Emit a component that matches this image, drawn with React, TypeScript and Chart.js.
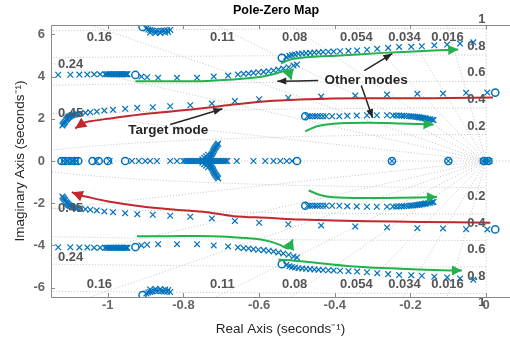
import React, { useEffect, useRef } from "react";
import { Chart, registerables } from "chart.js";

Chart.register(...registerables);

type P = [number, number];

// ---------- axes ----------
const X_TICKS = [-1, -0.8, -0.6, -0.4, -0.2, 0];
const Y_TICKS = [-6, -4, -2, 0, 2, 4, 6];
const X_RANGE: P = [-1.15, 0.063];
const Y_RANGE: P = [-6.45, 6.45];

// ---------- poles (upper half; lower half are conjugates) ----------
const TARGET_POLES: P[] = [
  [-1.120, 1.682], [-1.118, 1.73], [-1.116, 1.777], [-1.114, 1.83], [-1.112, 1.872], [-1.110, 1.943],
  [-1.108, 1.98], [-1.107, 2.014], [-1.105, 2.05], [-1.103, 2.085], [-1.101, 2.11], [-1.099, 2.133],
  [-1.096, 2.16], [-1.094, 2.180], [-1.090, 2.19], [-1.086, 2.204], [-1.080, 2.23], [-1.073, 2.251],
  [-1.059, 2.284], [-1.046, 2.313], [-1.029, 2.346], [-1.009, 2.393], [-0.986, 2.427], [-0.954, 2.474],
  [-0.922, 2.521], [-0.881, 2.550], [-0.835, 2.597], [-0.782, 2.645], [-0.725, 2.725], [-0.664, 2.844],
  [-0.600, 2.929], [-0.523, 3.000], [-0.436, 3.057], [-0.346, 3.104], [-0.262, 3.152], [-0.182, 3.185],
  [-0.114, 3.199], [-0.053, 3.232], [0.003, 3.246],
];
const OTHER_A_POLES: P[] = [
  [-1.131, 4.09], [-1.099, 4.09], [-1.075, 4.10], [-1.054, 4.10], [-1.036, 4.11], [-1.020, 4.11],
  [-1.007, 4.12], [-1.003, 4.12], [-0.999, 4.12], [-0.995, 4.12], [-0.991, 4.12], [-0.987, 4.12],
  [-0.983, 4.12], [-0.979, 4.12], [-0.975, 4.12], [-0.971, 4.12], [-0.967, 4.12], [-0.964, 4.12],
  [-0.961, 4.12], [-0.958, 4.12], [-0.955, 4.12], [-0.952, 4.12], [-0.950, 4.12], [-0.948, 4.12],
];
const OTHER_B_POLES: P[] = [
  [-0.911, 4.005], [-0.896, 3.972], [-0.867, 3.943], [-0.817, 3.943], [-0.764, 3.943], [-0.720, 4.005],
  [-0.682, 4.052], [-0.656, 4.100], [-0.641, 4.133], [-0.628, 4.147], [-0.615, 4.180], [-0.602, 4.209],
  [-0.588, 4.227], [-0.575, 4.256], [-0.562, 4.289], [-0.549, 4.336], [-0.536, 4.384], [-0.522, 4.445],
  [-0.509, 4.526], [-0.500, 4.573],
];
const OTHER_C_POLES: P[] = [
  [-0.528, 4.938], [-0.520, 4.986], [-0.513, 5.024], [-0.505, 5.047], [-0.496, 5.081], [-0.486, 5.095],
  [-0.476, 5.114], [-0.465, 5.128], [-0.454, 5.142], [-0.443, 5.156], [-0.431, 5.171], [-0.417, 5.180],
  [-0.403, 5.190], [-0.386, 5.204], [-0.364, 5.223], [-0.341, 5.246], [-0.315, 5.275], [-0.288, 5.318],
  [-0.259, 5.365], [-0.230, 5.412], [-0.198, 5.417], [-0.170, 5.441], [-0.137, 5.488], [-0.103, 5.521],
  [-0.069, 5.569], [-0.034, 5.630],
];
const OTHER_D_POLES: P[] = [
  [-0.472, 2.123], [-0.466, 2.123], [-0.459, 2.123], [-0.452, 2.123], [-0.446, 2.123], [-0.439, 2.123],
  [-0.431, 2.123], [-0.423, 2.123], [-0.407, 2.123], [-0.388, 2.123], [-0.367, 2.142], [-0.342, 2.156],
  [-0.315, 2.171], [-0.289, 2.171], [-0.262, 2.171], [-0.246, 2.156], [-0.238, 2.156], [-0.230, 2.156],
  [-0.223, 2.150], [-0.217, 2.142], [-0.210, 2.133], [-0.203, 2.123], [-0.198, 2.116], [-0.193, 2.109],
  [-0.187, 2.097], [-0.182, 2.085], [-0.178, 2.074], [-0.174, 2.062], [-0.170, 2.050], [-0.166, 2.038],
  [-0.162, 2.026], [-0.159, 2.014], [-0.153, 1.991], [-0.148, 1.976], [-0.143, 1.957], [-0.139, 1.943],
];
const TOP_POLES: P[] = [
  [-0.898, 6.280], [-0.893, 6.232], [-0.888, 6.209], [-0.882, 6.185], [-0.874, 6.171], [-0.867, 6.171],
  [-0.859, 6.175], [-0.851, 6.185], [-0.843, 6.199], [-0.835, 6.218], [-0.888, 6.090], [-0.874, 6.066],
  [-0.861, 6.076], [-0.848, 6.090], [-0.840, 6.114],
];
const FISH_POLES: P[] = [
  [-0.750, 0.08], [-0.745, 0.15], [-0.740, 0.22], [-0.735, 0.30], [-0.732, 0.07], [-0.730, 0.14],
  [-0.729, 0.20], [-0.727, 0.26], [-0.726, 0.31], [-0.724, 0.36], [-0.722, 0.42], [-0.721, 0.47],
  [-0.719, 0.53], [-0.718, 0.58], [-0.716, 0.63], [-0.714, 0.68], [-0.712, 0.73], [-0.710, 0.78],
  [-0.708, 0.83],
];
const REAL_POLES = [
  -1.118, -1.106, -1.094, -1.083, -1.030, -0.995, -0.936, -0.918, -0.901, -0.888, -0.870, -0.835,
  -0.817, -0.800, -0.795, -0.790, -0.785, -0.780, -0.775, -0.770, -0.765, -0.760, -0.756, -0.752,
  -0.748, -0.744, -0.740, -0.736, -0.732, -0.728, -0.724, -0.720, -0.716, -0.712, -0.708, -0.704,
  -0.700, -0.696, -0.692, -0.688, -0.684, -0.659, -0.615, -0.584, -0.562, -0.544, -0.527, -0.513,
  -0.249, -0.100, -0.009, -0.003, 0.003, 0.009,
];

// ---------- zeros ----------
const UPPER_ZEROS: P[] = [[0.024, 3.246], [-0.927, 4.08], [-0.540, 4.891], [-0.478, 2.123], [-0.908, 6.36]];
const REAL_ZEROS = [-1.122, -1.112, -1.100, -1.088, -1.078, -1.040, -1.024, -1.000, -0.954, -0.500, -0.249, -0.100, -0.006, 0.006];

// ---------- grid (damping ratios, natural frequencies in Hz) ----------
const DAMPING = [0.016, 0.034, 0.054, 0.08, 0.11, 0.16, 0.24, 0.45];
const FREQ_HZ = [0.2, 0.4, 0.6, 0.8, 1];

// ---------- grid labels ----------
const DAMP_TOP_LABELS = ["0.16", "0.11", "0.08", "0.054", "0.034", "0.016"];
const DAMP_TOP_RE = [-1.022, -0.697, -0.506, -0.343, -0.216, -0.102];
const DAMP_TOP_IM = 5.85;
const DAMP_SIDE_LABELS = ["0.24", "0.45"];
const DAMP_SIDE_RE = -1.098;
const DAMP_SIDE_IM = [4.57, 2.25];
const FREQ_LABELS = ["0.2", "0.4", "0.6", "0.8", "1"];
const FREQ_LABEL_UP = [1.635, 2.915, 4.194, 5.427, 6.706];
const FREQ_LABEL_DN = [-1.682, -2.962, -4.194, -5.474, -6.706];

// ---------- annotations ----------
const NOTE_TEXT = ["Other modes", "Target mode"];
const NOTE_RE = [-0.317, -0.840];
const NOTE_IM = [3.839, 1.445];

const RED_UP: P[] = [[0.018, 3.009], [-0.095, 2.986], [-0.188, 2.976], [-0.306, 2.972], [-0.404, 2.962], [-0.491, 2.915], [-0.579, 2.834], [-0.668, 2.678], [-0.738, 2.521], [-0.827, 2.360], [-0.914, 2.204], [-1.002, 2.000], [-1.046, 1.886], [-1.065, 1.80], [-1.086, 1.540]];
const RED_DN: P[] = [[0.011, -2.929], [-0.174, -2.891], [-0.315, -2.853], [-0.491, -2.773], [-0.579, -2.692], [-0.668, -2.616], [-0.738, -2.427], [-0.827, -2.299], [-0.914, -2.142], [-1.002, -1.905], [-1.059, -1.682], [-1.074, -1.62], [-1.095, -1.479]];
const GREEN_1_UP: P[] = [[-0.927, 3.782], [-0.835, 3.782], [-0.756, 3.782], [-0.668, 3.863], [-0.610, 3.957], [-0.571, 4.076], [-0.539, 4.242], [-0.523, 4.313], [-0.515, 3.863]];
const GREEN_1_DN: P[] = [[-0.923, -3.564], [-0.835, -3.564], [-0.729, -3.564], [-0.668, -3.611], [-0.610, -3.69], [-0.575, -3.80], [-0.545, -3.98], [-0.522, -4.15], [-0.511, -3.72]];
const GREEN_2_UP: P[] = [[-0.542, 4.621], [-0.518, 4.810], [-0.465, 4.929], [-0.386, 5.000], [-0.272, 5.128], [-0.140, 5.237], [-0.074, 5.284]];
const GREEN_2_DN: P[] = [[-0.549, -4.668], [-0.491, -4.749], [-0.359, -4.986], [-0.227, -5.109], [-0.095, -5.190], [-0.064, -5.190]];
const GREEN_3_UP: P[] = [[-0.478, 1.412], [-0.447, 1.649], [-0.404, 1.763], [-0.315, 1.810], [-0.227, 1.777], [-0.139, 1.730]];
const GREEN_3_DN: P[] = [[-0.469, -1.398], [-0.439, -1.611], [-0.404, -1.716], [-0.315, -1.754], [-0.227, -1.744], [-0.130, -1.706]];
const BLACK_1: P[] = [[-0.835, 1.730], [-0.697, 2.474]];
const BLACK_2: P[] = [[-0.444, 3.815], [-0.552, 3.782]];
const BLACK_3: P[] = [[-0.322, 4.289], [-0.248, 5.095]];
const BLACK_4: P[] = [[-0.330, 3.578], [-0.300, 2.038]];

// ---------- styles ----------
const BLUE = "#0072BD";
const RED = "#C1272D";
const GREEN = "#22B14C";
const DARK = "#262626";
const GRID = "#bdbdbd";
const FONT = "'Liberation Sans', Arial, Helvetica, sans-serif";

type Arrow = { pts: P[]; color: string; width: number; len: number; half: number };
const ARROWS: Arrow[] = [
  { pts: RED_UP, color: RED, width: 2, len: 11, half: 5.5 },
  { pts: RED_DN, color: RED, width: 2, len: 11, half: 5.5 },
  { pts: GREEN_1_UP, color: GREEN, width: 2, len: 10, half: 6 },
  { pts: GREEN_1_DN, color: GREEN, width: 2, len: 10, half: 6 },
  { pts: GREEN_2_UP, color: GREEN, width: 2, len: 10, half: 5 },
  { pts: GREEN_2_DN, color: GREEN, width: 2, len: 10, half: 5 },
  { pts: GREEN_3_UP, color: GREEN, width: 2, len: 10, half: 5 },
  { pts: GREEN_3_DN, color: GREEN, width: 2, len: 10, half: 5 },
  { pts: BLACK_1, color: DARK, width: 1.5, len: 9, half: 3.5 },
  { pts: BLACK_2, color: DARK, width: 1.5, len: 9, half: 3.5 },
  { pts: BLACK_3, color: DARK, width: 1.5, len: 9, half: 3.5 },
  { pts: BLACK_4, color: DARK, width: 1.5, len: 9, half: 3.5 },
];

const toXY = (p: P) => ({ x: p[0], y: p[1] });
const withConj = (arr: P[]) => [...arr.map(toXY), ...arr.map((p) => ({ x: p[0], y: -p[1] }))];

function buildGrid() {
  const sets: any[] = [];
  const L = 50;
  DAMPING.forEach((z) => {
    const s = Math.sqrt(1 - z * z);
    sets.push([{ x: -z * L, y: s * L }, { x: 0, y: 0 }, { x: -z * L, y: -s * L }]);
  });
  sets.push([{ x: -L, y: 0 }, { x: L, y: 0 }]);
  sets.push([{ x: 0, y: -L }, { x: 0, y: L }]);
  FREQ_HZ.forEach((f) => {
    const r = 2 * Math.PI * f;
    const pts: any[] = [];
    for (let a = 90; a <= 270.001; a += 0.5) {
      const t = (a * Math.PI) / 180;
      pts.push({ x: r * Math.cos(t), y: r * Math.sin(t) });
    }
    sets.push(pts);
  });
  return sets.map((data) => ({
    data,
    showLine: true,
    borderColor: GRID,
    borderWidth: 0.9,
    borderDash: [1, 2],
    pointRadius: 0,
    tension: 0,
    order: 5,
  }));
}

const overlay = {
  id: "overlay",
  afterDatasetsDraw(chart: any) {
    const { ctx, scales } = chart;
    const xs = scales.x, ys = scales.y;
    const X = (v: number) => xs.getPixelForValue(v);
    const Y = (v: number) => ys.getPixelForValue(v);
    ctx.save();
    // grid labels
    ctx.font = `bold 13px ${FONT}`;
    ctx.fillStyle = "#555555";
    ctx.textBaseline = "middle";
    ctx.textAlign = "center";
    DAMP_TOP_LABELS.forEach((t, i) => {
      ctx.fillText(t, X(DAMP_TOP_RE[i]), Y(DAMP_TOP_IM));
      ctx.fillText(t, X(DAMP_TOP_RE[i]), Y(-DAMP_TOP_IM));
    });
    DAMP_SIDE_LABELS.forEach((t, i) => {
      ctx.fillText(t, X(DAMP_SIDE_RE), Y(DAMP_SIDE_IM[i]));
      ctx.fillText(t, X(DAMP_SIDE_RE), Y(-DAMP_SIDE_IM[i]));
    });
    ctx.textAlign = "right";
    FREQ_LABELS.forEach((t, i) => {
      ctx.fillText(t, X(-0.002), Y(FREQ_LABEL_UP[i]));
      ctx.fillText(t, X(-0.002), Y(FREQ_LABEL_DN[i]));
    });
    // arrow heads
    ARROWS.forEach((a) => {
      const n = a.pts.length;
      const x1 = X(a.pts[n - 2][0]), y1 = Y(a.pts[n - 2][1]);
      const x2 = X(a.pts[n - 1][0]), y2 = Y(a.pts[n - 1][1]);
      const ang = Math.atan2(y2 - y1, x2 - x1);
      const c = Math.cos(ang), s = Math.sin(ang);
      ctx.fillStyle = a.color;
      ctx.beginPath();
      ctx.moveTo(x2, y2);
      ctx.lineTo(x2 - a.len * c - a.half * s, y2 - a.len * s + a.half * c);
      ctx.lineTo(x2 - a.len * c + a.half * s, y2 - a.len * s - a.half * c);
      ctx.closePath();
      ctx.fill();
    });
    // annotation texts
    ctx.font = `bold 13.5px ${FONT}`;
    ctx.fillStyle = DARK;
    ctx.textAlign = "center";
    NOTE_TEXT.forEach((t, i) => ctx.fillText(t, X(NOTE_RE[i]), Y(NOTE_IM[i])));
    ctx.restore();
  },
  afterDraw(chart: any) {
    const { ctx, chartArea: a, scales } = chart;
    const xs = scales.x, ys = scales.y;
    ctx.save();
    ctx.strokeStyle = "#8a8a8a";
    ctx.lineWidth = 1;
    ctx.beginPath();
    ctx.moveTo(a.right, Math.round(a.top) + 0.5);
    ctx.lineTo(Math.round(a.left) + 0.5, Math.round(a.top) + 0.5);
    ctx.lineTo(Math.round(a.left) + 0.5, Math.round(a.bottom) + 0.5);
    ctx.lineTo(a.right, Math.round(a.bottom) + 0.5);
    ctx.stroke();
    ctx.beginPath();
    X_TICKS.forEach((v) => {
      const px = Math.round(xs.getPixelForValue(v)) + 0.5;
      ctx.moveTo(px, a.top); ctx.lineTo(px, a.top + 4);
      ctx.moveTo(px, a.bottom); ctx.lineTo(px, a.bottom - 4);
    });
    Y_TICKS.forEach((v) => {
      const py = Math.round(ys.getPixelForValue(v)) + 0.5;
      ctx.moveTo(a.left, py); ctx.lineTo(a.left + 4, py);
    });
    ctx.stroke();
    ctx.font = `bold 12.5px ${FONT}`;
    ctx.fillStyle = "#000";
    ctx.textAlign = "center";
    ctx.textBaseline = "middle";
    ctx.fillText("Pole-Zero Map", a.left + 225, a.top - 14);
    ctx.restore();
  },
};

export default function App() {
  const ref = useRef<HTMLCanvasElement>(null);
  useEffect(() => {
    document.body.style.margin = "0";
    const poles = [
      ...withConj(TARGET_POLES),
      ...withConj(OTHER_A_POLES),
      ...withConj(OTHER_B_POLES),
      ...withConj(OTHER_C_POLES),
      ...withConj(OTHER_D_POLES),
      ...withConj(TOP_POLES),
      ...withConj(FISH_POLES),
      ...REAL_POLES.map((x) => ({ x, y: 0 })),
    ];
    const zeros = [...withConj(UPPER_ZEROS), ...REAL_ZEROS.map((x) => ({ x, y: 0 }))];
    const arrowSets = ARROWS.map((a) => ({
      data: a.pts.map(toXY),
      showLine: true,
      borderColor: a.color,
      borderWidth: a.width,
      pointRadius: 0,
      tension: 0.3,
      order: 0,
    }));
    const tickFont = { family: FONT, size: 13, weight: "bold" as const };
    const titleFont = { family: FONT, size: 13.5 };
    const chart = new Chart(ref.current!, {
      type: "scatter",
      data: {
        datasets: [
          ...arrowSets,
          {
            data: zeros,
            pointStyle: "circle",
            pointRadius: 3.6,
            borderWidth: 1.5,
            borderColor: BLUE,
            backgroundColor: "rgba(0,0,0,0)",
            order: 1,
          },
          {
            data: poles,
            pointStyle: "crossRot",
            pointRadius: 4,
            borderWidth: 1.2,
            borderColor: BLUE,
            backgroundColor: BLUE,
            order: 2,
          },
          ...buildGrid(),
        ] as any,
      },
      options: {
        animation: false,
        responsive: false,
        devicePixelRatio: 1,
        events: [],
        layout: { autoPadding: false, padding: { top: 25, left: 0, right: 0, bottom: 0 } },
        plugins: { legend: { display: false }, title: { display: false }, tooltip: { enabled: false } },
        scales: {
          x: {
            type: "linear",
            min: X_RANGE[0],
            max: X_RANGE[1],
            grid: { display: false, drawTicks: false },
            border: { display: false },
            ticks: { font: tickFont, color: "#666", padding: 1, callback: (v: any) => String(v) },
            afterBuildTicks: (s: any) => { s.ticks = X_TICKS.map((value) => ({ value })); },
            afterFit: (s: any) => { s.height = 40; s.paddingLeft = 0; s.paddingRight = 0; },
            title: { display: true, text: "Real Axis (seconds\u207B\u00B9)", font: titleFont, color: DARK, padding: 0 },
          },
          y: {
            type: "linear",
            min: Y_RANGE[0],
            max: Y_RANGE[1],
            grid: { display: false, drawTicks: false },
            border: { display: false },
            ticks: { font: tickFont, color: "#666", padding: 6, callback: (v: any) => String(v) },
            afterBuildTicks: (s: any) => { s.ticks = Y_TICKS.map((value) => ({ value })); },
            afterFit: (s: any) => { s.width = 51; s.paddingTop = 0; s.paddingBottom = 0; },
            title: { display: true, text: "Imaginary Axis (seconds\u207B\u00B9)", font: titleFont, color: DARK, padding: { top: 12, bottom: 0 } },
          },
        },
      },
      plugins: [overlay],
    } as any);
    return () => chart.destroy();
  }, []);
  return <canvas ref={ref} width={510} height={337} style={{ display: "block" }} />;
}
